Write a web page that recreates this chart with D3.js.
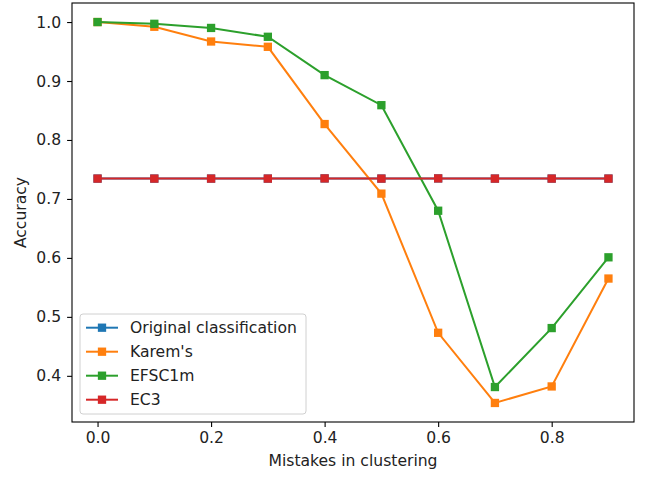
<!DOCTYPE html>
<html><head><meta charset="utf-8">
<script src="https://cdn.jsdelivr.net/npm/d3@7"></script>
<style>
body{margin:0;background:#fff;}
svg{display:block;font-family:"DejaVu Sans",sans-serif;}
</style></head>
<body>
<svg id="chart" width="647" height="478"></svg>
<script>
const xValues = [0.0, 0.1, 0.2, 0.3, 0.4, 0.5, 0.6, 0.7, 0.8, 0.9];
const seriesNames = ["Original classification", "Karem's", "EFSC1m", "EC3"];
const original = [0.7345, 0.7345, 0.7345, 0.7345, 0.7348, 0.7345, 0.7348, 0.7345, 0.7345, 0.7345];
const karems = [1.0, 0.992, 0.967, 0.958, 0.827, 0.709, 0.473, 0.354, 0.382, 0.565];
const efsc1m = [1.0, 0.997, 0.990, 0.975, 0.910, 0.859, 0.680, 0.381, 0.481, 0.601];
const ec3 = [0.7345, 0.7345, 0.7345, 0.7345, 0.7348, 0.7345, 0.7348, 0.7345, 0.7345, 0.7345];
const colors = ["#1f77b4", "#ff7f0e", "#2ca02c", "#d62728"];
const xTicks = [0.0, 0.2, 0.4, 0.6, 0.8];
const yTicks = [0.4, 0.5, 0.6, 0.7, 0.8, 0.9, 1.0];

const series = [original, karems, efsc1m, ec3];
const svg = d3.select("#chart");
const L = 72, R = 634, T = 3, B = 422;

const x = d3.scaleLinear().domain([-0.045, 0.945]).range([L, R]);
const allY = series.flat();
const yMin = d3.min(allY), yMax = d3.max(allY), pad = (yMax - yMin) * 0.05;
const y = d3.scaleLinear().domain([yMin - pad, yMax + pad]).range([B, T]);

const fs = 15.6;
const xAxis = svg.append("g").attr("transform", `translate(0,${B})`)
  .call(d3.axisBottom(x).tickValues(xTicks).tickFormat(d3.format(".1f")).tickSize(4.9).tickPadding(5));
const yAxis = svg.append("g").attr("transform", `translate(${L},0)`)
  .call(d3.axisLeft(y).tickValues(yTicks).tickFormat(d3.format(".1f")).tickSize(4.9).tickPadding(6));
[xAxis, yAxis].forEach(g => {
  g.select(".domain").remove();
  g.selectAll("line").attr("stroke", "#000").attr("stroke-width", 1.1);
  g.selectAll("text").attr("font-size", fs).attr("fill", "#222").attr("font-family", "DejaVu Sans");
});

svg.append("rect").attr("x", L).attr("y", T).attr("width", R - L).attr("height", B - T)
  .attr("fill", "none").attr("stroke", "#000").attr("stroke-width", 1.1);

const line = d3.line().x((d, i) => x(xValues[i])).y(d => y(d));
const ms = 8.3;
series.forEach((s, k) => {
  const g = svg.append("g");
  g.append("path").datum(s).attr("d", line).attr("fill", "none")
    .attr("stroke", colors[k]).attr("stroke-width", 2);
  g.selectAll("rect").data(s).enter().append("rect")
    .attr("x", (d, i) => x(xValues[i]) - ms / 2).attr("y", d => y(d) - ms / 2)
    .attr("width", ms).attr("height", ms).attr("fill", colors[k]);
});

svg.append("text").attr("x", (L + R) / 2).attr("y", 466).attr("text-anchor", "middle")
  .attr("font-size", fs).attr("fill", "#222").text("Mistakes in clustering");
svg.append("text").attr("transform", `translate(25.5,${(T + B) / 2}) rotate(-90)`).attr("text-anchor", "middle")
  .attr("font-size", fs).attr("fill", "#222").text("Accuracy");

// legend
const lg = svg.append("g");
lg.append("rect").attr("x", 80).attr("y", 314).attr("width", 226).attr("height", 100).attr("rx", 3)
  .attr("fill", "#fff").attr("fill-opacity", 0.8).attr("stroke", "#d0d0d0").attr("stroke-width", 1);
seriesNames.forEach((n, k) => {
  const yy = 327.7 + k * 24;
  lg.append("line").attr("x1", 86).attr("x2", 118).attr("y1", yy).attr("y2", yy)
    .attr("stroke", colors[k]).attr("stroke-width", 2);
  lg.append("rect").attr("x", 102 - ms / 2).attr("y", yy - ms / 2).attr("width", ms).attr("height", ms).attr("fill", colors[k]);
  lg.append("text").attr("x", 130).attr("y", yy).attr("dy", "0.36em").attr("font-size", fs).attr("fill", "#222").text(n);
});
</script>
</body></html>
